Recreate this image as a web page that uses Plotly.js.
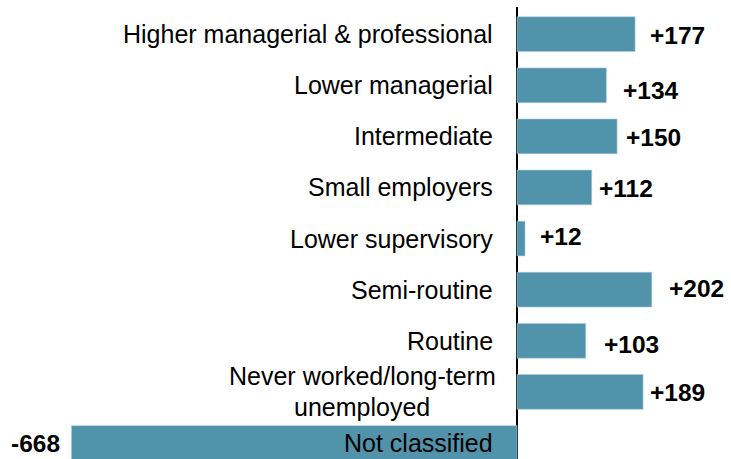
<!DOCTYPE html>
<html>
<head>
<meta charset="utf-8">
<script src="https://cdn.plot.ly/plotly-3.0.1.min.js"></script>
<style>html,body{margin:0;padding:0;background:#fff;}#chart{width:731px;height:459px;}</style>
</head>
<body>
<div id="chart"></div>
<script>
// Data
const categories = [
  "Higher managerial & professional",
  "Lower managerial",
  "Intermediate",
  "Small employers",
  "Lower supervisory",
  "Semi-routine",
  "Routine",
  "Never worked/long-term<br>unemployed",
  "Not classified"
];
const values = [177, 134, 150, 112, 12, 202, 103, 189, -668];
const valueLabels = ["+177", "+134", "+150", "+112", "+12", "+202", "+103", "+189", "-668"];

// Styling: per-label nudges (pixels) to mimic the hand-placed labels
const labelDx = [13, 15, 7, 5, 13, 15, 16, 5, -9];
const labelDy = [-1, -5, -1, -1, 2, 1, -4, -1, 0];

const barColor = "#5093AB";
const font = "Liberation Sans, Arial, sans-serif";

const annotations = [];
categories.forEach((c, i) => {
  const lines = c.split("<br>");
  const n = lines.length;
  lines.forEach((ln, k) => {
    annotations.push({
      x: 0, y: i, xref: "x", yref: "y",
      text: ln, showarrow: false,
      xanchor: n > 1 ? "center" : "right", yanchor: "middle",
      xshift: n > 1 ? -155 : -22,
      yshift: (((n - 1) / 2) - k) * 31,
      font: {family: font, size: 25, color: "#000"}
    });
  });
  const v = values[i];
  annotations.push({
    x: v, y: i, xref: "x", yref: "y",
    text: "<b>" + valueLabels[i] + "</b>", showarrow: false,
    xanchor: v >= 0 ? "left" : "right", yanchor: "middle",
    xshift: labelDx[i], yshift: labelDy[i],
    font: {family: font, size: 24.5, color: "#000"}
  });
});

const trace = {
  type: "bar",
  orientation: "h",
  x: values,
  y: categories.map((c, i) => i),
  width: 0.68,
  marker: {color: barColor, line: {width: 0.6, color: "#a9cbd7"}},
  hoverinfo: "none"
};

const layout = {
  width: 731, height: 459,
  margin: {l: 0, r: 0, t: 7, b: 0, pad: 0},
  paper_bgcolor: "#fff", plot_bgcolor: "#fff",
  showlegend: false,
  xaxis: {
    range: [-775.1, 320.8],
    showgrid: false, zeroline: true, zerolinecolor: "#000", zerolinewidth: 2,
    showticklabels: false, ticks: "", showline: false, fixedrange: true
  },
  yaxis: {
    range: [8.313, -0.532],
    showgrid: false, zeroline: false, showticklabels: false, ticks: "",
    showline: false, fixedrange: true
  },
  annotations: annotations
};

Plotly.newPlot("chart", [trace], layout, {displayModeBar: false, staticPlot: true});
</script>
</body>
</html>
